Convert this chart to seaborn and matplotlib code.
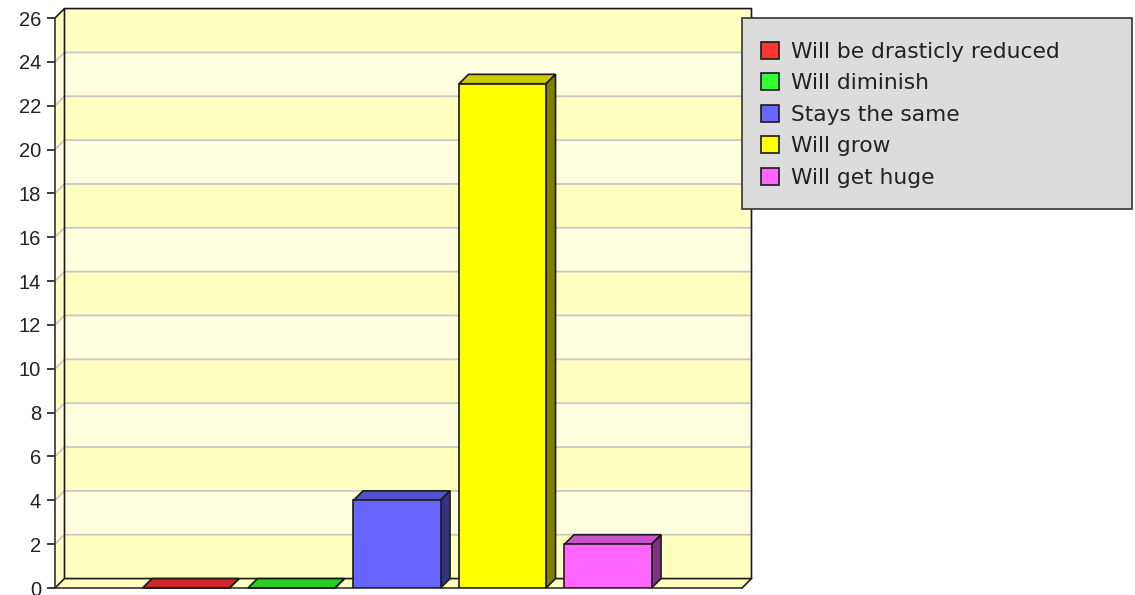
import pandas as pd
import seaborn as sns
import matplotlib.pyplot as plt
from matplotlib.patches import Patch, Polygon, Rectangle
from matplotlib.colors import to_rgb

categories = ['Will be drasticly reduced', 'Will diminish', 'Stays the same', 'Will grow', 'Will get huge']
counts = [0, 0, 4, 23, 2]
bar_colors = ['#FF3333', '#33FF33', '#6666FF', '#FFFF00', '#FF66FF']
y_ticks = list(range(0, 27, 2))

BAND_DARK = '#FFFFC0'
BAND_LIGHT = '#FFFFE0'
GRID = '#C8C8C8'
EDGE = '#1A1A1A'
LINE = 1.2

# fake 3d depth, in data units
depth_x = 0.09
depth_y = 0.43


def darker(color, factor):
    return tuple(c * factor for c in to_rgb(color))


sns.set_theme(style='white')
plt.rcParams['font.family'] = ['Liberation Sans', 'DejaVu Sans']

fig = plt.figure(figsize=(11.35, 5.95), dpi=100)
ax = fig.add_axes([55 / 1135, 1 - 588 / 595, 687 / 1135, 570 / 595])

df = pd.DataFrame({'answer': categories, 'count': counts})
sns.barplot(data=df, x='answer', y='count', hue='answer', order=categories, hue_order=categories,
            palette=bar_colors, saturation=1, dodge=False, width=0.825, edgecolor=EDGE, linewidth=LINE,
            legend=False, ax=ax)

x0, x1 = -1.2417, 5.27
y0, y1 = y_ticks[0], y_ticks[-1]
ax.set_xlim(x0, x1)
ax.set_ylim(y0, y1)


def add_poly(points, **kwargs):
    ax.add_patch(Polygon(points, closed=True, clip_on=False, **kwargs))


# back wall and left wall bands, top band is the darker one
for i in range(len(y_ticks) - 1):
    lo, hi = y_ticks[i], y_ticks[i + 1]
    shade = BAND_DARK if i % 2 == 0 else BAND_LIGHT
    add_poly([(x0 + depth_x, lo + depth_y), (x1 + depth_x, lo + depth_y),
              (x1 + depth_x, hi + depth_y), (x0 + depth_x, hi + depth_y)],
             facecolor=shade, edgecolor='none', zorder=0.5)
    add_poly([(x0, lo), (x0 + depth_x, lo + depth_y), (x0 + depth_x, hi + depth_y), (x0, hi)],
             facecolor=shade, edgecolor='none', zorder=0.5)

# floor
add_poly([(x0, y0), (x1, y0), (x1 + depth_x, y0 + depth_y), (x0 + depth_x, y0 + depth_y)],
         facecolor=BAND_DARK, edgecolor='none', zorder=0.6)

# grid lines
for t in y_ticks[1:-1]:
    ax.plot([x0, x0 + depth_x, x1 + depth_x], [t, t + depth_y, t + depth_y],
            color=GRID, lw=1.3, clip_on=False, zorder=0.8)

# outline of the box
ax.plot([x0 + depth_x, x0 + depth_x, x1 + depth_x, x1 + depth_x, x1],
        [y0 + depth_y, y1 + depth_y, y1 + depth_y, y0 + depth_y, y0],
        color=EDGE, lw=LINE, clip_on=False, zorder=1)
ax.plot([x0, x0 + depth_x, x1 + depth_x], [y0, y0 + depth_y, y0 + depth_y],
        color=EDGE, lw=LINE, clip_on=False, zorder=1)
ax.plot([x0, x0 + depth_x], [y1, y1 + depth_y], color=EDGE, lw=LINE, clip_on=False, zorder=1)

# top and side faces come from the bars seaborn drew
for bar, color in zip(ax.patches[:len(categories)], bar_colors):
    left = bar.get_x()
    right = left + bar.get_width()
    top = bar.get_height()
    add_poly([(left, top), (right, top), (right + depth_x, top + depth_y), (left + depth_x, top + depth_y)],
             facecolor=darker(color, 0.8), edgecolor=EDGE, linewidth=LINE, zorder=3)
    add_poly([(right, 0), (right + depth_x, depth_y), (right + depth_x, top + depth_y), (right, top)],
             facecolor=darker(color, 0.5), edgecolor=EDGE, linewidth=LINE, zorder=3)
    bar.set_zorder(3.1)

ax.set_xlabel('')
ax.set_ylabel('')
ax.set_xticks([])
ax.set_yticks(y_ticks)
ax.tick_params(axis='y', left=True, length=6, width=LINE, pad=4, color=EDGE, labelsize=14.5, labelcolor='#222222')
for label in ax.get_yticklabels():
    label.set_va('center_baseline')
ax.patch.set_alpha(0)
sns.despine(ax=ax, top=True, right=True)
for side in ['left', 'bottom']:
    ax.spines[side].set_color('#333333')
    ax.spines[side].set_linewidth(LINE)
    ax.spines[side].set_zorder(2)

# legend box is taller than the entries need, so it is drawn on its own
fig.add_artist(Rectangle((742 / 1135, 1 - 209 / 595), 390 / 1135, 191 / 595, transform=fig.transFigure,
                         facecolor='#DCDCDC', edgecolor='#333333', linewidth=LINE, zorder=9))
handles = [Patch(facecolor=c, edgecolor=EDGE, linewidth=LINE) for c in bar_colors]
leg = fig.legend(handles, categories, loc='upper left', bbox_to_anchor=(761 / 1135, 1 - 42 / 595),
                 bbox_transform=fig.transFigure, borderaxespad=0, borderpad=0,
                 prop={'family': 'DejaVu Sans', 'size': 15.7}, labelspacing=0.52, handlelength=0.82,
                 handleheight=0.82, handletextpad=0.55, frameon=False, labelcolor='#222222')
leg.set_zorder(10)

plt.savefig('out.png', dpi=100)
